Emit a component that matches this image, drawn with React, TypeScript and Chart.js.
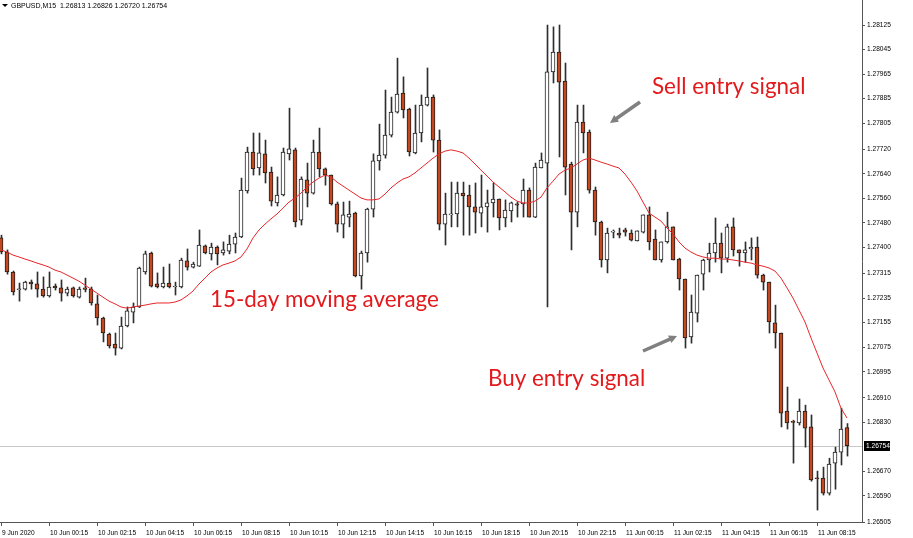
import React, { useEffect, useRef } from 'react';
import { Chart, registerables } from 'chart.js';

Chart.register(...registerables);

// ---- header / labels ----
const symbolHeader = 'GBPUSD,M15  1.26813 1.26826 1.26720 1.26754';
const lastPrice = 1.26754;

const xTickLabels = [
  '9 Jun 2020', '10 Jun 00:15', '10 Jun 02:15', '10 Jun 04:15', '10 Jun 06:15', '10 Jun 08:15',
  '10 Jun 10:15', '10 Jun 12:15', '10 Jun 14:15', '10 Jun 16:15', '10 Jun 18:15', '10 Jun 20:15',
  '10 Jun 22:15', '11 Jun 00:15', '11 Jun 02:15', '11 Jun 04:15', '11 Jun 06:15', '11 Jun 08:15',
];
const candlesPerLabel = 8;

const yTicks = [
  1.28125, 1.28045, 1.27965, 1.27885, 1.27805, 1.27720, 1.27640, 1.27560, 1.27480, 1.27400,
  1.27315, 1.27235, 1.27155, 1.27075, 1.26995, 1.26910, 1.26830, 1.26670, 1.26590, 1.26505,
];
const yMin = 1.265051;
const yMax = 1.282065;

// ---- M15 candles ----
const opens = [
  1.27431, 1.27385, 1.27320, 1.27262, 1.27264, 1.27287, 1.27281, 1.27264, 1.27242, 1.27274,
  1.27268, 1.27251, 1.27268, 1.27238, 1.27268, 1.27264, 1.27216, 1.27170, 1.27118, 1.27085,
  1.27072, 1.27144, 1.27189, 1.27206, 1.27320, 1.27382, 1.27281, 1.27271, 1.27284, 1.27271,
  1.27271, 1.27356, 1.27336, 1.27339, 1.27405, 1.27379, 1.27401, 1.27382, 1.27388, 1.27411,
  1.27434, 1.27584, 1.27711, 1.27659, 1.27705, 1.27646, 1.27545, 1.27571, 1.27705, 1.27718,
  1.27489, 1.27620, 1.27577, 1.27711, 1.27656, 1.27636, 1.27542, 1.27476, 1.27499, 1.27512,
  1.27307, 1.27382, 1.27525, 1.27682, 1.27701, 1.27766, 1.27841, 1.27903, 1.27851, 1.27708,
  1.27773, 1.27864, 1.27890, 1.27750, 1.27476, 1.27506, 1.27509, 1.27577, 1.27571, 1.27532,
  1.27512, 1.27532, 1.27545, 1.27558, 1.27496, 1.27519, 1.27542, 1.27542, 1.27587, 1.27499,
  1.27659, 1.27675, 1.27972, 1.28037, 1.27942, 1.27672, 1.27515, 1.27809, 1.27776, 1.27587,
  1.27483, 1.27359, 1.27450, 1.27447, 1.27457, 1.27447, 1.27421, 1.27450, 1.27506, 1.27427,
  1.27359, 1.27418, 1.27467, 1.27362, 1.27297, 1.27108, 1.27186, 1.27313, 1.27359, 1.27382,
  1.27414, 1.27365, 1.27467, 1.27392, 1.27382, 1.27395, 1.27401, 1.27310, 1.27287, 1.27154,
  1.27121, 1.26867, 1.26831, 1.26828, 1.26867, 1.26815, 1.26648, 1.26648, 1.26599, 1.26697,
  1.26733, 1.26813,
];
const highs = [
  1.27440, 1.27392, 1.27323, 1.27284, 1.27290, 1.27294, 1.27320, 1.27304, 1.27320, 1.27281,
  1.27294, 1.27271, 1.27271, 1.27271, 1.27300, 1.27271, 1.27245, 1.27173, 1.27121, 1.27121,
  1.27173, 1.27206, 1.27219, 1.27336, 1.27388, 1.27385, 1.27317, 1.27336, 1.27346, 1.27287,
  1.27365, 1.27395, 1.27352, 1.27457, 1.27408, 1.27414, 1.27405, 1.27418, 1.27440, 1.27447,
  1.27626, 1.27727, 1.27773, 1.27773, 1.27750, 1.27662, 1.27630, 1.27724, 1.27854, 1.27724,
  1.27630, 1.27675, 1.27750, 1.27789, 1.27659, 1.27636, 1.27548, 1.27548, 1.27551, 1.27515,
  1.27388, 1.27528, 1.27705, 1.27802, 1.27913, 1.27890, 1.28017, 1.27956, 1.27854, 1.27864,
  1.27897, 1.27985, 1.27897, 1.27783, 1.27577, 1.27613, 1.27613, 1.27613, 1.27603, 1.27610,
  1.27636, 1.27587, 1.27610, 1.27558, 1.27555, 1.27548, 1.27548, 1.27623, 1.27594, 1.27675,
  1.27708, 1.28125, 1.28119, 1.28125, 1.28001, 1.27678, 1.27864, 1.27864, 1.27783, 1.27597,
  1.27486, 1.27463, 1.27457, 1.27463, 1.27463, 1.27457, 1.27454, 1.27506, 1.27532, 1.27457,
  1.27418, 1.27515, 1.27467, 1.27365, 1.27297, 1.27245, 1.27310, 1.27362, 1.27414, 1.27496,
  1.27447, 1.27476, 1.27496, 1.27392, 1.27418, 1.27431, 1.27434, 1.27313, 1.27287, 1.27212,
  1.27121, 1.26945, 1.26837, 1.26906, 1.26886, 1.26854, 1.26671, 1.26684, 1.26713, 1.26749,
  1.26876, 1.26826,
];
const lows = [
  1.27379, 1.27313, 1.27245, 1.27225, 1.27261, 1.27264, 1.27238, 1.27238, 1.27238, 1.27261,
  1.27225, 1.27242, 1.27238, 1.27235, 1.27255, 1.27212, 1.27147, 1.27092, 1.27072, 1.27049,
  1.27069, 1.27141, 1.27154, 1.27204, 1.27313, 1.27271, 1.27268, 1.27268, 1.27268, 1.27245,
  1.27268, 1.27326, 1.27333, 1.27338, 1.27379, 1.27359, 1.27343, 1.27375, 1.27379, 1.27382,
  1.27432, 1.27577, 1.27636, 1.27636, 1.27610, 1.27535, 1.27535, 1.27568, 1.27685, 1.27467,
  1.27473, 1.27532, 1.27574, 1.27630, 1.27603, 1.27538, 1.27450, 1.27431, 1.27467, 1.27304,
  1.27264, 1.27352, 1.27499, 1.27652, 1.27691, 1.27760, 1.27838, 1.27822, 1.27698, 1.27705,
  1.27744, 1.27861, 1.27711, 1.27457, 1.27408, 1.27467, 1.27467, 1.27440, 1.27440, 1.27447,
  1.27467, 1.27450, 1.27499, 1.27457, 1.27467, 1.27483, 1.27499, 1.27499, 1.27499, 1.27497,
  1.27659, 1.27206, 1.27936, 1.27695, 1.27571, 1.27392, 1.27467, 1.27708, 1.27577, 1.27440,
  1.27336, 1.27317, 1.27431, 1.27431, 1.27437, 1.27421, 1.27421, 1.27447, 1.27392, 1.27359,
  1.27352, 1.27414, 1.27359, 1.27261, 1.27072, 1.27088, 1.27157, 1.27261, 1.27320, 1.27352,
  1.27317, 1.27352, 1.27372, 1.27339, 1.27352, 1.27359, 1.27300, 1.27261, 1.27121, 1.27072,
  1.26815, 1.26808, 1.26697, 1.26821, 1.26749, 1.26638, 1.26544, 1.26593, 1.26593, 1.26612,
  1.26691, 1.26720,
];
const closes = [
  1.27385, 1.27320, 1.27255, 1.27264, 1.27287, 1.27281, 1.27264, 1.27242, 1.27271, 1.27268,
  1.27251, 1.27264, 1.27242, 1.27264, 1.27263, 1.27219, 1.27170, 1.27121, 1.27079, 1.27072,
  1.27144, 1.27193, 1.27206, 1.27333, 1.27379, 1.27274, 1.27271, 1.27284, 1.27271, 1.27274,
  1.27359, 1.27336, 1.27346, 1.27408, 1.27382, 1.27401, 1.27379, 1.27392, 1.27411, 1.27434,
  1.27587, 1.27711, 1.27656, 1.27708, 1.27643, 1.27551, 1.27571, 1.27711, 1.27721, 1.27483,
  1.27623, 1.27577, 1.27711, 1.27656, 1.27636, 1.27542, 1.27476, 1.27506, 1.27509, 1.27307,
  1.27382, 1.27525, 1.27682, 1.27701, 1.27766, 1.27841, 1.27900, 1.27848, 1.27711, 1.27773,
  1.27864, 1.27890, 1.27750, 1.27476, 1.27509, 1.27509, 1.27577, 1.27568, 1.27532, 1.27515,
  1.27532, 1.27545, 1.27558, 1.27496, 1.27522, 1.27545, 1.27538, 1.27587, 1.27499, 1.27662,
  1.27685, 1.27972, 1.28037, 1.27939, 1.27662, 1.27515, 1.27809, 1.27773, 1.27587, 1.27483,
  1.27359, 1.27447, 1.27452, 1.27440, 1.27450, 1.27424, 1.27454, 1.27506, 1.27418, 1.27359,
  1.27418, 1.27467, 1.27359, 1.27297, 1.27105, 1.27189, 1.27310, 1.27359, 1.27382, 1.27414,
  1.27365, 1.27467, 1.27392, 1.27382, 1.27392, 1.27401, 1.27310, 1.27287, 1.27157, 1.27121,
  1.26860, 1.26828, 1.26830, 1.26867, 1.26811, 1.26642, 1.26646, 1.26599, 1.26694, 1.26733,
  1.26808, 1.26754,
];
// 15-period moving average
const movingAverage = [
  1.27392, 1.27385, 1.27375, 1.27369, 1.27362, 1.27356, 1.27349, 1.27343, 1.27336, 1.27326,
  1.27320, 1.27310, 1.27300, 1.27290, 1.27277, 1.27264, 1.27251, 1.27238, 1.27225, 1.27216,
  1.27206, 1.27202, 1.27206, 1.27209, 1.27212, 1.27216, 1.27219, 1.27219, 1.27219, 1.27222,
  1.27229, 1.27242, 1.27258, 1.27281, 1.27300, 1.27320, 1.27333, 1.27343, 1.27349, 1.27356,
  1.27369, 1.27395, 1.27431, 1.27457, 1.27476, 1.27493, 1.27509, 1.27528, 1.27548, 1.27561,
  1.27577, 1.27597, 1.27613, 1.27626, 1.27636, 1.27630, 1.27613, 1.27600, 1.27587, 1.27574,
  1.27561, 1.27555, 1.27555, 1.27558, 1.27574, 1.27594, 1.27610, 1.27623, 1.27630, 1.27643,
  1.27659, 1.27675, 1.27691, 1.27705, 1.27714, 1.27718, 1.27714, 1.27708, 1.27691, 1.27672,
  1.27652, 1.27633, 1.27613, 1.27597, 1.27581, 1.27564, 1.27551, 1.27545, 1.27545, 1.27551,
  1.27564, 1.27594, 1.27616, 1.27639, 1.27652, 1.27659, 1.27672, 1.27685, 1.27691, 1.27685,
  1.27678, 1.27672, 1.27665, 1.27659, 1.27639, 1.27613, 1.27584, 1.27548, 1.27512, 1.27499,
  1.27486, 1.27463, 1.27444, 1.27418, 1.27398, 1.27385, 1.27375, 1.27369, 1.27365, 1.27365,
  1.27362, 1.27362, 1.27359, 1.27356, 1.27352, 1.27349, 1.27343, 1.27339, 1.27333, 1.27323,
  1.27300, 1.27268, 1.27235, 1.27196, 1.27157, 1.27105, 1.27056, 1.27007, 1.26968, 1.26929,
  1.26876, 1.26844,
];

// ---- annotations (candle index, price) ----
const annotationTexts = [
  { text: 'Sell entry signal', x: 108.5, y: 1.279001 },
  { text: '15-day moving average', x: 34.83, y: 1.272058 },
  { text: 'Buy entry signal', x: 81.17, y: 1.269484 },
];
const annotationArrows = [
  { x1: 106.5, y1: 1.27874, x2: 101.5, y2: 1.278056 },
  { x1: 107.0, y1: 1.270625, x2: 112.67, y2: 1.271113 },
];

const BEAR = '#c4471f';
const BULL = '#ffffff';
const AXIS = '#555555';
const TICK_FONT = { family: '"Liberation Sans", Arial, sans-serif', size: 6.6 };

function drawArrow(ctx: CanvasRenderingContext2D, x1: number, y1: number, x2: number, y2: number) {
  const ang = Math.atan2(y2 - y1, x2 - x1);
  const head = 8;
  const hw = 4.2;
  const bx = x2 - head * Math.cos(ang);
  const by = y2 - head * Math.sin(ang);
  ctx.strokeStyle = '#808080';
  ctx.fillStyle = '#808080';
  ctx.lineWidth = 3.5;
  ctx.lineCap = 'butt';
  ctx.beginPath();
  ctx.moveTo(x1, y1);
  ctx.lineTo(bx + 1 * Math.cos(ang), by + 1 * Math.sin(ang));
  ctx.stroke();
  ctx.beginPath();
  ctx.moveTo(x2, y2);
  ctx.lineTo(bx + hw * Math.sin(ang), by - hw * Math.cos(ang));
  ctx.lineTo(bx - hw * Math.sin(ang), by + hw * Math.cos(ang));
  ctx.closePath();
  ctx.fill();
}

export default function App() {
  const canvasRef = useRef<HTMLCanvasElement | null>(null);

  useEffect(() => {
    const canvas = canvasRef.current;
    if (!canvas) return;
    const idx = opens.map((_, i) => i);
    const bodyData = idx.map((i) => ({ x: i, y: [opens[i], closes[i]] }));
    const wickData = idx.map((i) => ({ x: i, y: [lows[i], highs[i]] }));
    const maData = idx.map((i) => ({ x: i, y: movingAverage[i] }));

    const xMin = -1 / 6;
    const xMax = 143.5;

    const overlay = {
      id: 'overlay',
      beforeDatasetsDraw(chart: any) {
        const { ctx, chartArea } = chart;
        const y = Math.round(chart.scales.y.getPixelForValue(lastPrice)) + 0.5;
        ctx.save();
        ctx.strokeStyle = '#c8c8c8';
        ctx.lineWidth = 1;
        ctx.beginPath();
        ctx.moveTo(chartArea.left, y);
        ctx.lineTo(chartArea.right, y);
        ctx.stroke();
        ctx.restore();
      },
      afterDraw(chart: any) {
        const { ctx, chartArea } = chart;
        const xs = chart.scales.x;
        const ys = chart.scales.y;
        ctx.save();
        // current price tag
        const py = Math.round(ys.getPixelForValue(lastPrice));
        ctx.fillStyle = '#000';
        ctx.fillRect(chartArea.right + 2, py - 5, 26, 10);
        ctx.fillStyle = '#fff';
        ctx.font = `${TICK_FONT.size}px ${TICK_FONT.family}`;
        ctx.textAlign = 'left';
        ctx.textBaseline = 'middle';
        ctx.fillText(lastPrice.toFixed(5), chartArea.right + 4, py + 0.5);

        // header
        ctx.fillStyle = '#000';
        ctx.beginPath();
        ctx.moveTo(2, 4);
        ctx.lineTo(8, 4);
        ctx.lineTo(5, 7);
        ctx.closePath();
        ctx.fill();
        ctx.font = '7px "Liberation Sans", Arial, sans-serif';
        ctx.textBaseline = 'alphabetic';
        ctx.fillText(symbolHeader, 11, 8);

        // annotation texts
        ctx.fillStyle = '#e3191c';
        ctx.font = '22.4px Lato, "Open Sans", sans-serif';
        ctx.textBaseline = 'alphabetic';
        annotationTexts.forEach((a) => {
          ctx.fillText(a.text, xs.getPixelForValue(a.x), ys.getPixelForValue(a.y));
        });
        // arrows
        annotationArrows.forEach((a) => {
          drawArrow(
            ctx,
            xs.getPixelForValue(a.x1),
            ys.getPixelForValue(a.y1),
            xs.getPixelForValue(a.x2),
            ys.getPixelForValue(a.y2),
          );
        });
        ctx.restore();
      },
    };

    const chart = new Chart(canvas, {
      type: 'bar',
      data: {
        datasets: [
          {
            type: 'line',
            label: 'MA 15',
            data: maData as any,
            borderColor: '#e8262a',
            borderWidth: 1,
            pointRadius: 0,
            tension: 0,
            fill: false,
            order: 0,
            xAxisID: 'x',
            yAxisID: 'y',
          } as any,
          {
            type: 'bar',
            label: 'body',
            data: bodyData as any,
            backgroundColor: idx.map((i) => (closes[i] >= opens[i] ? BULL : BEAR)),
            borderColor: '#1e1e1e',
            borderWidth: 1,
            borderSkipped: false,
            grouped: false,
            barThickness: 4,
            maxBarThickness: 4,
            minBarLength: 1,
            order: 1,
            xAxisID: 'x',
            yAxisID: 'y',
          } as any,
          {
            type: 'bar',
            label: 'wick',
            data: wickData as any,
            backgroundColor: '#2e2e2e',
            borderWidth: 0,
            grouped: false,
            barThickness: 1,
            maxBarThickness: 1,
            order: 2,
            xAxisID: 'xw',
            yAxisID: 'y',
          } as any,
        ],
      },
      options: {
        responsive: false,
        maintainAspectRatio: false,
        animation: false,
        devicePixelRatio: 1,
        events: [],
        layout: { padding: 0, autoPadding: false } as any,
        plugins: {
          legend: { display: false },
          tooltip: { enabled: false },
        },
        scales: {
          x: {
            type: 'linear',
            position: 'bottom',
            min: xMin,
            max: xMax,
            offset: false,
            afterBuildTicks: (s: any) => {
              s.ticks = xTickLabels.map((_, i) => ({ value: i * candlesPerLabel }));
            },
            afterFit: (s: any) => {
              s.height = 16;
              s.paddingLeft = 0;
              s.paddingRight = 0;
            },
            ticks: {
              callback: (_v: any, i: number) => xTickLabels[i],
              autoSkip: false,
              maxRotation: 0,
              minRotation: 0,
              align: 'start',
              labelOffset: 1,
              padding: 3,
              font: TICK_FONT,
              color: '#000',
            },
            grid: {
              display: true,
              drawOnChartArea: false,
              drawTicks: true,
              tickLength: 4,
              color: AXIS,
              offset: false,
            },
            border: { display: true, color: AXIS },
          } as any,
          xw: {
            type: 'linear',
            display: false,
            min: xMin - 0.5 / 6,
            max: xMax - 0.5 / 6,
            offset: false,
            grid: { offset: false },
          } as any,
          y: {
            type: 'linear',
            position: 'right',
            min: yMin,
            max: yMax,
            afterBuildTicks: (s: any) => {
              s.ticks = yTicks.map((v) => ({ value: v }));
            },
            afterFit: (s: any) => {
              s.width = 51;
              s.paddingTop = 0;
              s.paddingBottom = 0;
            },
            ticks: {
              callback: (v: any) => Number(v).toFixed(5),
              autoSkip: false,
              padding: 2,
              font: TICK_FONT,
              color: '#000',
            },
            grid: {
              display: true,
              drawOnChartArea: false,
              drawTicks: true,
              tickLength: 3,
              color: AXIS,
            },
            border: { display: true, color: AXIS },
          } as any,
        },
      },
      plugins: [overlay],
    });
    return () => chart.destroy();
  }, []);

  return (
    <div style={{ position: 'fixed', left: 0, top: 0, width: 913, height: 538, background: '#fff' }}>
      <canvas ref={canvasRef} width={913} height={538} style={{ display: 'block' }} />
    </div>
  );
}
